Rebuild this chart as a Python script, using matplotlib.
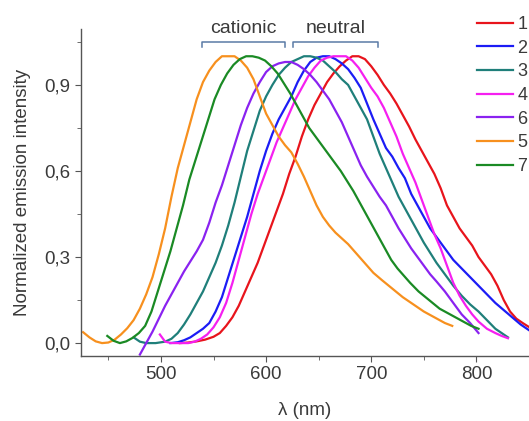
import numpy as np
import matplotlib
matplotlib.use('Agg')
import matplotlib.pyplot as plt
from matplotlib.ticker import MultipleLocator

plt.rcParams['font.family'] = ['Liberation Sans', 'DejaVu Sans']
plt.rcParams['figure.dpi'] = 100

# emission spectra: wavelength (nm), normalized intensity
x1 = [518, 526, 534, 542, 550, 556, 562, 568, 574, 580, 586, 592, 598, 604, 610, 616, 622, 628,
      634, 640, 646, 652, 658, 664, 670, 676, 682, 688, 694, 700, 706, 712, 718, 724, 730, 736,
      742, 748, 754, 760, 766, 772, 778, 784, 790, 796, 802, 808, 814, 820, 826, 832, 838, 844, 850]
y1 = [0.0, 0.002, 0.006, 0.012, 0.022, 0.035, 0.06, 0.09, 0.13, 0.18, 0.23, 0.28, 0.34, 0.40,
      0.46, 0.52, 0.59, 0.65, 0.72, 0.78, 0.83, 0.87, 0.91, 0.94, 0.965, 0.985, 1.0, 1.0, 0.99,
      0.965, 0.935, 0.90, 0.87, 0.835, 0.795, 0.755, 0.71, 0.67, 0.63, 0.59, 0.54, 0.48, 0.44,
      0.40, 0.37, 0.34, 0.30, 0.27, 0.24, 0.20, 0.15, 0.11, 0.085, 0.07, 0.056]

x2 = [509, 516, 522, 528, 534, 540, 546, 552, 558, 564, 570, 576, 582, 588, 594, 600, 606, 612,
      618, 624, 630, 636, 642, 648, 654, 660, 666, 672, 678, 684, 690, 696, 702, 708, 714, 720,
      726, 732, 738, 744, 750, 756, 762, 770, 778, 786, 794, 802, 810, 818, 826, 834, 842, 850]
y2 = [0.0, 0.003, 0.01, 0.02, 0.035, 0.05, 0.07, 0.11, 0.16, 0.23, 0.30, 0.37, 0.44, 0.52, 0.60,
      0.67, 0.73, 0.78, 0.82, 0.86, 0.91, 0.95, 0.98, 0.995, 1.0, 1.0, 0.99, 0.975, 0.955, 0.925,
      0.89, 0.835, 0.78, 0.73, 0.68, 0.65, 0.61, 0.575, 0.52, 0.48, 0.44, 0.40, 0.37, 0.33, 0.29,
      0.26, 0.23, 0.20, 0.17, 0.14, 0.115, 0.09, 0.065, 0.045]

x3 = [474, 480, 486, 495, 504, 510, 516, 522, 528, 534, 540, 546, 552, 558, 564, 570, 576, 582,
      588, 594, 600, 606, 612, 618, 624, 630, 636, 642, 648, 654, 660, 666, 672, 678, 684, 690,
      696, 702, 708, 714, 720, 726, 732, 738, 744, 750, 756, 762, 770, 778, 786, 794, 802, 810,
      818, 824, 830]
y3 = [0.02, 0.005, 0.0, 0.0, 0.005, 0.015, 0.035, 0.065, 0.10, 0.14, 0.18, 0.23, 0.28, 0.34,
      0.41, 0.49, 0.58, 0.67, 0.74, 0.81, 0.86, 0.90, 0.935, 0.96, 0.98, 0.99, 1.0, 1.0, 0.995,
      0.985, 0.965, 0.945, 0.92, 0.90, 0.86, 0.82, 0.78, 0.72, 0.66, 0.61, 0.56, 0.51, 0.47,
      0.43, 0.39, 0.35, 0.315, 0.28, 0.24, 0.20, 0.165, 0.135, 0.11, 0.08, 0.05, 0.035, 0.02]

x4 = [499, 504, 510, 518, 526, 532, 538, 544, 550, 556, 562, 568, 574, 580, 586, 592, 598, 604,
      610, 616, 622, 628, 634, 640, 646, 652, 658, 664, 670, 676, 682, 688, 694, 700, 706, 712,
      718, 724, 730, 736, 742, 748, 754, 760, 766, 772, 778, 784, 790, 796, 802, 810, 818, 824, 830]
y4 = [0.03, 0.005, 0.0, 0.0, 0.0, 0.005, 0.015, 0.03, 0.055, 0.09, 0.14, 0.21, 0.29, 0.37, 0.45,
      0.52, 0.58, 0.64, 0.70, 0.75, 0.80, 0.85, 0.89, 0.93, 0.96, 0.985, 0.995, 1.0, 1.0, 1.0,
      0.985, 0.96, 0.925, 0.89, 0.86, 0.82, 0.77, 0.72, 0.66, 0.61, 0.56, 0.50, 0.44, 0.38, 0.33,
      0.27, 0.21, 0.165, 0.13, 0.10, 0.075, 0.05, 0.035, 0.025, 0.017]

x6 = [480, 486, 492, 498, 504, 510, 516, 522, 528, 534, 540, 546, 552, 558, 564, 570, 576, 582,
      588, 594, 600, 606, 612, 618, 624, 630, 636, 642, 648, 654, 660, 666, 672, 678, 684, 690,
      696, 702, 708, 714, 720, 726, 732, 738, 744, 750, 756, 762, 770, 778, 786, 794, 802]
y6 = [-0.04, 0.0, 0.04, 0.085, 0.13, 0.17, 0.21, 0.25, 0.285, 0.32, 0.36, 0.42, 0.49, 0.55, 0.62,
      0.69, 0.76, 0.82, 0.87, 0.91, 0.945, 0.965, 0.975, 0.98, 0.98, 0.97, 0.955, 0.935, 0.91,
      0.88, 0.85, 0.81, 0.77, 0.72, 0.67, 0.62, 0.58, 0.545, 0.51, 0.48, 0.44, 0.40, 0.365, 0.33,
      0.30, 0.27, 0.24, 0.215, 0.18, 0.14, 0.10, 0.07, 0.035]

x5 = [426, 432, 438, 444, 450, 456, 462, 468, 474, 480, 486, 492, 498, 504, 510, 516, 522, 528,
      534, 540, 546, 552, 558, 564, 570, 576, 582, 588, 594, 600, 606, 612, 618, 624, 630, 636,
      642, 648, 654, 660, 666, 672, 678, 684, 690, 696, 702, 710, 720, 730, 740, 750, 760, 770, 777]
y5 = [0.038, 0.02, 0.006, 0.0, 0.002, 0.012, 0.03, 0.052, 0.08, 0.12, 0.17, 0.23, 0.31, 0.40,
      0.51, 0.61, 0.69, 0.77, 0.85, 0.91, 0.95, 0.98, 1.0, 1.0, 1.0, 0.985, 0.96, 0.92, 0.86, 0.80,
      0.76, 0.72, 0.69, 0.665, 0.625, 0.58, 0.53, 0.48, 0.44, 0.41, 0.385, 0.365, 0.345, 0.32,
      0.295, 0.27, 0.245, 0.22, 0.19, 0.16, 0.135, 0.11, 0.09, 0.07, 0.06]

x7 = [449, 455, 461, 467, 473, 479, 485, 491, 497, 503, 509, 515, 521, 527, 533, 539, 545, 551,
      557, 563, 569, 575, 581, 587, 593, 599, 605, 611, 617, 623, 629, 635, 641, 647, 653, 659,
      665, 671, 677, 683, 689, 695, 701, 707, 713, 719, 725, 731, 737, 745, 755, 765, 775, 785,
      795, 802]
y7 = [0.025, 0.008, 0.0, 0.006, 0.018, 0.035, 0.06, 0.11, 0.18, 0.25, 0.32, 0.40, 0.48, 0.57,
      0.64, 0.71, 0.78, 0.85, 0.90, 0.94, 0.97, 0.99, 1.0, 1.0, 0.995, 0.985, 0.965, 0.94, 0.905,
      0.87, 0.83, 0.79, 0.75, 0.72, 0.69, 0.66, 0.63, 0.60, 0.565, 0.53, 0.49, 0.45, 0.41, 0.37,
      0.33, 0.29, 0.26, 0.235, 0.21, 0.18, 0.15, 0.12, 0.10, 0.08, 0.06, 0.05]

labels = ['1', '2', '3', '4', '6', '5', '7']
colors = ['#e8141c', '#1c1cf5', '#1f7f7a', '#f51ff0', '#8a22f0', '#f7901e', '#1a8a24']
series = [(x1, y1), (x2, y2), (x3, y3), (x4, y4), (x6, y6), (x5, y5), (x7, y7)]

groups = ['cationic', 'neutral']
group_ranges = [(539, 618), (626, 706)]

fig = plt.figure(figsize=(5.29, 4.21))
ax = fig.add_axes([81/529, 1 - 356/421, 1 - 81/529, (356 - 29)/421])

for (xs, ys), lab, c in zip(series, labels, colors):
    ax.plot(xs, ys, color=c, lw=1.6, label=lab)

ax.set_xlim(424, 850)
ax.set_ylim(-0.045, 1.095)
ax.xaxis.set_major_locator(MultipleLocator(100))
ax.xaxis.set_minor_locator(MultipleLocator(50))
ax.yaxis.set_major_locator(MultipleLocator(0.3))
ax.yaxis.set_minor_locator(MultipleLocator(0.15))
ax.yaxis.set_major_formatter(lambda v, pos: ('%.1f' % v).replace('.', ','))

for s in ['top', 'right']:
    ax.spines[s].set_visible(False)
for s in ['left', 'bottom']:
    ax.spines[s].set_color('#555555')
    ax.spines[s].set_linewidth(1.0)
ax.tick_params(which='both', direction='out', colors='#555555', labelcolor='#3a3a3a', labelsize=13.5)
ax.tick_params(which='major', length=4)
ax.tick_params(axis='y', which='major', pad=4)
ax.tick_params(axis='x', which='major', pad=3)
ax.tick_params(which='minor', length=3)

ax.set_xlabel('λ (nm)', fontsize=13.5, color='#3a3a3a', labelpad=14)
ax.set_ylabel('Normalized emission intensity', fontsize=13.5, color='#3a3a3a', labelpad=9)

# brackets with group names
for name, (a, b) in zip(groups, group_ranges):
    ax.plot([a, a, b, b], [1.033, 1.05, 1.05, 1.033], color='#5a7aa6', lw=1.1, clip_on=False)
    ax.text((a + b) / 2, 1.081, name, ha='center', va='baseline', fontsize=14,
            color='#3a3a3a', clip_on=False)

leg = ax.legend(loc='upper left', bbox_to_anchor=(477/529, 1 - 16/421),
                bbox_transform=fig.transFigure, frameon=False, fontsize=13,
                handlelength=2.0, handletextpad=0.25, labelspacing=0.37,
                borderpad=0, borderaxespad=0)
for t in leg.get_texts():
    t.set_color('#3a3a3a')

fig.savefig('out.png', dpi=100)
